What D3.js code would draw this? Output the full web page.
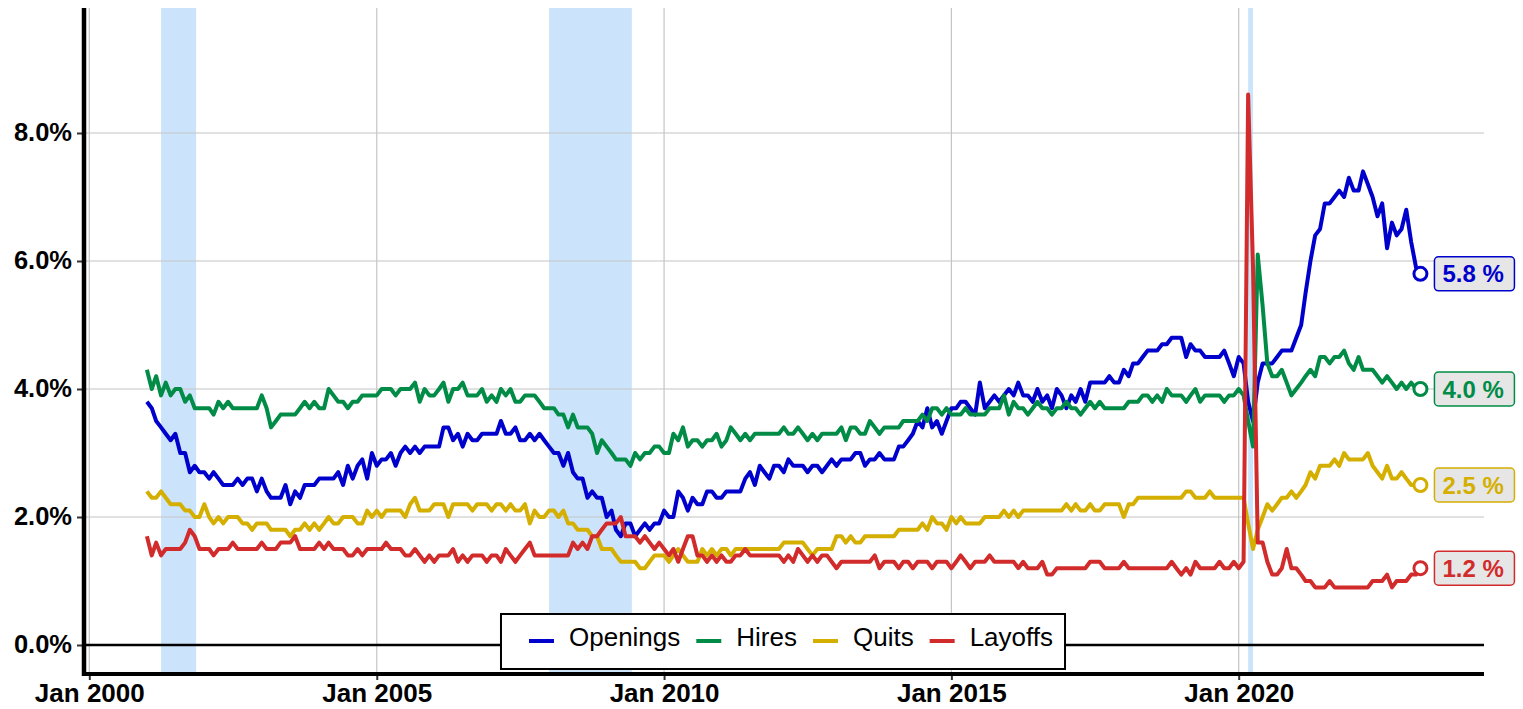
<!DOCTYPE html>
<html>
<head>
<meta charset="utf-8">
<script src="https://cdn.jsdelivr.net/npm/d3@7"></script>
<style>
  body { margin: 0; background: #fff; }
  svg { display: block; font-family: "Liberation Sans", Arial, sans-serif; }
</style>
</head>
<body>
<div id="chart"></div>
<script>
// monthly series start in Jan 2001 and run to Mar 2023 (one row per year)
const startMonth = "2001-01-01"

const openings = [
  3.8,3.7,3.5,3.4,3.3,3.2,3.3,3.0,3.0,2.7,2.8,2.7, // 2001
  2.7,2.6,2.7,2.6,2.5,2.5,2.5,2.6,2.5,2.6,2.6,2.4, // 2002
  2.6,2.4,2.3,2.3,2.3,2.5,2.2,2.4,2.3,2.5,2.5,2.5, // 2003
  2.6,2.6,2.6,2.6,2.7,2.5,2.8,2.6,2.8,2.9,2.6,3.0, // 2004
  2.8,2.9,2.9,3.0,2.8,3.0,3.1,3.0,3.1,3.0,3.1,3.1, // 2005
  3.1,3.1,3.4,3.4,3.2,3.3,3.1,3.3,3.2,3.2,3.3,3.3, // 2006
  3.3,3.3,3.5,3.3,3.3,3.4,3.2,3.2,3.3,3.2,3.3,3.2, // 2007
  3.1,3.0,3.0,2.8,3.0,2.7,2.6,2.6,2.3,2.4,2.3,2.3, // 2008
  2.0,2.1,1.8,1.7,1.9,1.9,1.7,1.8,1.9,1.8,1.9,1.9, // 2009
  2.1,2.0,2.0,2.4,2.3,2.1,2.3,2.2,2.2,2.4,2.4,2.3, // 2010
  2.3,2.4,2.4,2.4,2.4,2.6,2.7,2.5,2.8,2.7,2.6,2.8, // 2011
  2.8,2.7,2.9,2.8,2.8,2.8,2.7,2.8,2.8,2.7,2.8,2.9, // 2012
  2.8,2.9,2.9,2.9,3.0,3.0,2.8,2.9,2.9,3.0,2.9,2.9, // 2013
  2.9,3.1,3.1,3.2,3.3,3.5,3.4,3.7,3.4,3.5,3.3,3.5, // 2014
  3.7,3.7,3.8,3.8,3.7,3.6,4.1,3.7,3.8,3.9,3.8,3.9, // 2015
  4.0,3.9,4.1,3.9,3.9,3.8,4.0,3.8,3.9,3.7,4.0,3.9, // 2016
  3.7,3.9,3.8,4.0,3.8,4.1,4.1,4.1,4.1,4.2,4.1,4.1, // 2017
  4.3,4.2,4.4,4.4,4.5,4.6,4.6,4.6,4.7,4.7,4.8,4.8, // 2018
  4.8,4.5,4.7,4.6,4.6,4.5,4.5,4.5,4.5,4.6,4.4,4.2, // 2019
  4.5,4.4,3.8,3.5,4.1,4.4,4.4,4.4,4.5,4.6,4.6,4.6, // 2020
  4.8,5.0,5.5,6.0,6.4,6.5,6.9,6.9,7.0,7.1,7.0,7.3, // 2021
  7.1,7.1,7.4,7.2,7.0,6.7,6.9,6.2,6.6,6.4,6.5,6.8, // 2022
  6.3,5.9,5.8                                      // 2023
]

const hires = [
  4.3,4.0,4.2,3.9,4.1,3.9,4.0,4.0,3.8,3.9,3.7,3.7,
  3.7,3.7,3.6,3.8,3.7,3.8,3.7,3.7,3.7,3.7,3.7,3.7,
  3.9,3.7,3.4,3.5,3.6,3.6,3.6,3.6,3.7,3.8,3.7,3.8,
  3.7,3.7,4.0,3.9,3.8,3.8,3.7,3.8,3.8,3.9,3.9,3.9,
  3.9,4.0,4.0,4.0,3.9,4.0,4.0,4.0,4.1,3.8,4.0,3.9,
  3.9,4.0,4.1,3.8,4.0,4.0,4.1,3.9,3.9,3.9,4.0,3.8,
  3.9,3.8,4.0,3.9,4.0,3.8,3.8,3.9,3.9,3.9,3.8,3.7,
  3.7,3.7,3.6,3.6,3.4,3.6,3.4,3.4,3.4,3.3,3.0,3.2,
  3.1,3.0,2.9,2.9,2.9,2.8,3.0,2.9,3.0,3.0,3.1,3.1,
  3.0,3.0,3.3,3.2,3.4,3.1,3.2,3.2,3.1,3.2,3.2,3.3,
  3.1,3.2,3.4,3.3,3.2,3.3,3.2,3.3,3.3,3.3,3.3,3.3,
  3.3,3.4,3.3,3.3,3.4,3.3,3.2,3.3,3.2,3.3,3.3,3.3,
  3.3,3.4,3.2,3.4,3.4,3.3,3.3,3.5,3.4,3.3,3.4,3.4,
  3.4,3.4,3.5,3.5,3.5,3.5,3.6,3.5,3.7,3.7,3.6,3.7,
  3.6,3.6,3.6,3.7,3.6,3.6,3.6,3.6,3.7,3.7,3.7,3.9,
  3.6,3.8,3.7,3.7,3.6,3.7,3.8,3.7,3.7,3.6,3.7,3.7,
  3.8,3.7,3.7,3.6,3.7,3.8,3.7,3.8,3.7,3.7,3.7,3.7,
  3.7,3.8,3.8,3.8,3.9,3.9,3.8,3.9,3.8,4.0,3.9,3.9,
  3.9,3.8,3.9,4.0,3.8,3.9,3.9,3.9,3.9,3.8,3.9,3.9,
  4.0,3.9,3.5,3.1,6.1,5.3,4.4,4.2,4.2,4.3,4.1,3.9,
  4.0,4.1,4.2,4.3,4.2,4.5,4.5,4.4,4.5,4.5,4.6,4.4,
  4.3,4.5,4.3,4.3,4.3,4.2,4.1,4.2,4.1,4.0,4.1,4.0,
  4.1,4.0,4.0
]

const quits = [
  2.4,2.3,2.3,2.4,2.3,2.2,2.2,2.2,2.1,2.1,2.0,2.0,
  2.2,2.0,1.9,2.0,1.9,2.0,2.0,2.0,1.9,1.9,1.8,1.9,
  1.9,1.9,1.8,1.8,1.8,1.8,1.7,1.8,1.8,1.9,1.8,1.9,
  1.8,1.9,2.0,1.9,1.9,2.0,2.0,2.0,1.9,1.9,2.1,2.0,
  2.1,2.0,2.1,2.1,2.1,2.1,2.0,2.2,2.3,2.1,2.1,2.1,
  2.2,2.2,2.2,2.0,2.2,2.2,2.2,2.2,2.1,2.2,2.2,2.2,
  2.1,2.2,2.2,2.1,2.2,2.1,2.1,2.2,1.9,2.1,2.0,2.0,
  2.1,2.1,2.0,2.1,1.9,1.9,1.8,1.8,1.8,1.7,1.7,1.5,
  1.5,1.5,1.4,1.3,1.3,1.3,1.3,1.2,1.2,1.3,1.4,1.4,
  1.4,1.3,1.4,1.5,1.4,1.3,1.3,1.3,1.5,1.4,1.5,1.4,
  1.5,1.5,1.4,1.5,1.5,1.5,1.5,1.5,1.5,1.5,1.5,1.5,
  1.5,1.6,1.6,1.6,1.6,1.6,1.5,1.4,1.5,1.5,1.5,1.5,
  1.7,1.7,1.6,1.7,1.6,1.6,1.7,1.7,1.7,1.7,1.7,1.7,
  1.7,1.8,1.8,1.8,1.8,1.8,1.9,1.8,2.0,1.9,1.9,1.8,
  2.0,1.9,2.0,1.9,1.9,1.9,1.9,2.0,2.0,2.0,2.0,2.1,
  2.0,2.1,2.0,2.1,2.1,2.1,2.1,2.1,2.1,2.1,2.1,2.1,
  2.2,2.1,2.2,2.1,2.1,2.2,2.1,2.1,2.2,2.2,2.2,2.2,
  2.0,2.2,2.2,2.3,2.3,2.3,2.3,2.3,2.3,2.3,2.3,2.3,
  2.3,2.4,2.4,2.3,2.3,2.3,2.4,2.3,2.3,2.3,2.3,2.3,
  2.3,2.3,1.9,1.5,1.8,2.0,2.2,2.1,2.2,2.3,2.3,2.4,
  2.3,2.4,2.5,2.7,2.6,2.8,2.8,2.8,2.9,2.8,3.0,2.9,
  2.9,2.9,2.9,3.0,2.8,2.7,2.6,2.8,2.6,2.6,2.7,2.6,
  2.5,2.5,2.5
]

const layoffs = [
  1.7,1.4,1.6,1.4,1.5,1.5,1.5,1.5,1.6,1.8,1.7,1.5,
  1.5,1.5,1.4,1.5,1.5,1.5,1.6,1.5,1.5,1.5,1.5,1.5,
  1.6,1.5,1.5,1.5,1.6,1.6,1.6,1.7,1.5,1.5,1.5,1.5,
  1.6,1.5,1.6,1.5,1.5,1.5,1.4,1.4,1.5,1.4,1.5,1.5,
  1.5,1.5,1.6,1.5,1.5,1.5,1.4,1.4,1.5,1.4,1.3,1.4,
  1.3,1.4,1.4,1.4,1.5,1.3,1.4,1.3,1.4,1.4,1.4,1.3,
  1.4,1.4,1.3,1.5,1.4,1.3,1.4,1.5,1.6,1.4,1.4,1.4,
  1.4,1.4,1.4,1.4,1.4,1.6,1.5,1.6,1.5,1.7,1.7,1.8,
  1.9,1.9,1.9,2.0,1.7,1.7,1.7,1.6,1.7,1.6,1.5,1.6,
  1.5,1.4,1.5,1.3,1.5,1.7,1.7,1.4,1.4,1.3,1.4,1.3,
  1.4,1.3,1.3,1.4,1.4,1.5,1.4,1.4,1.4,1.4,1.4,1.4,
  1.4,1.3,1.4,1.3,1.5,1.4,1.3,1.4,1.3,1.4,1.4,1.3,
  1.2,1.3,1.3,1.3,1.3,1.3,1.3,1.3,1.4,1.2,1.3,1.3,
  1.3,1.2,1.3,1.3,1.2,1.3,1.3,1.3,1.2,1.3,1.3,1.3,
  1.2,1.3,1.4,1.3,1.2,1.3,1.3,1.3,1.4,1.3,1.3,1.3,
  1.3,1.3,1.2,1.3,1.2,1.2,1.2,1.3,1.1,1.1,1.2,1.2,
  1.2,1.2,1.2,1.2,1.2,1.3,1.3,1.3,1.2,1.2,1.2,1.2,
  1.3,1.2,1.2,1.2,1.2,1.2,1.2,1.2,1.2,1.2,1.3,1.2,
  1.1,1.2,1.1,1.3,1.2,1.2,1.2,1.2,1.3,1.2,1.2,1.3,
  1.2,1.3,8.6,5.9,1.6,1.6,1.3,1.1,1.1,1.2,1.5,1.2,
  1.2,1.1,1.0,1.0,0.9,0.9,0.9,1.0,0.9,0.9,0.9,0.9,
  0.9,0.9,0.9,0.9,1.0,1.0,1.0,1.1,0.9,1.0,1.0,1.0,
  1.1,1.1,1.2
]

const seriesNames = ["Openings", "Hires", "Quits", "Layoffs"]
const seriesColors = ["#0000cd", "#008c46", "#d4af00", "#d22b2b"]

// recession periods (shaded)
const recessions = [
  ["2001-04-01", "2001-11-10"],
  ["2008-01-01", "2009-06-10"],
  ["2020-03-01", "2020-04-01"]
]

const xTickDates = ["2000-01-01", "2005-01-01", "2010-01-01", "2015-01-01", "2020-01-01"]
const yTickValues = [0, 2, 4, 6, 8]

const parse = d3.utcParse("%Y-%m-%d")

const width = 1523
const height = 709

// plot frame
const plotLeft = 84
const plotRight = 1484
const plotTop = 8
const plotBottom = 674

// x scale calibrated on Jan 2000 / Jan 2020 gridlines, then stretched to the frame
let xScale = d3.scaleUtc()
  .domain([parse("2000-01-01"), parse("2020-01-01")])
  .range([89.3, 1238.7])
xScale.domain([xScale.invert(82), xScale.invert(plotRight)]).range([82, plotRight])

let yScale = d3.scaleLinear()
  .domain([0, 8])
  .range([645, 133])
yScale.domain([yScale.invert(plotBottom), yScale.invert(plotTop)]).range([plotBottom, plotTop])

const start = parse(startMonth)
const months = d3.utcMonth.range(start, d3.utcMonth.offset(start, openings.length))

const series = [openings, hires, quits, layoffs].map((vals, i) => ({
  name: seriesNames[i],
  color: seriesColors[i],
  values: vals.map((v, j) => ({ date: months[j], value: v }))
}))

let svg = d3.select("#chart")
  .append("svg")
    .attr("width", width)
    .attr("height", height)

svg.append("rect")
  .attr("width", width)
  .attr("height", height)
  .attr("fill", "white")

// recession shading
svg.selectAll(".recession")
    .data(recessions)
  .enter().append("rect")
    .attr("class", "recession")
    .attr("x", d => xScale(parse(d[0])))
    .attr("width", d => xScale(parse(d[1])) - xScale(parse(d[0])))
    .attr("y", plotTop)
    .attr("height", plotBottom - plotTop)
    .attr("fill", "#cce4fb")

// vertical gridlines
svg.append("g")
  .selectAll("line")
  .data(xTickDates)
  .enter().append("line")
    .attr("x1", d => xScale(parse(d)))
    .attr("x2", d => xScale(parse(d)))
    .attr("y1", plotTop)
    .attr("y2", plotBottom)
    .attr("stroke", "#c4c4c4")
    .attr("stroke-width", 1.2)

// horizontal gridlines
svg.append("g")
  .selectAll("line")
  .data(yTickValues.filter(d => d !== 0))
  .enter().append("line")
    .attr("x1", plotLeft)
    .attr("x2", plotRight)
    .attr("y1", d => yScale(d))
    .attr("y2", d => yScale(d))
    .attr("stroke", "#c4c4c4")
    .attr("stroke-width", 1.2)

// zero line
svg.append("line")
  .attr("x1", plotLeft)
  .attr("x2", plotRight)
  .attr("y1", yScale(0))
  .attr("y2", yScale(0))
  .attr("stroke", "black")
  .attr("stroke-width", 2.5)

// series lines
let line = d3.line()
  .x(d => xScale(d.date))
  .y(d => yScale(d.value))

svg.selectAll(".series")
    .data(series)
  .enter().append("path")
    .attr("class", "series")
    .attr("d", d => line(d.values))
    .attr("fill", "none")
    .attr("stroke", d => d.color)
    .attr("stroke-width", 4)
    .attr("stroke-linejoin", "round")

// axes
let yAxis = svg.append("g")
  .attr("transform", "translate(82,0)")
  .call(d3.axisLeft(yScale)
    .tickValues(yTickValues)
    .tickSize(5)
    .tickPadding(5)
    .tickFormat(d => d3.format(".1f")(d) + "%"))
yAxis.select(".domain").remove()
yAxis.selectAll(".tick line").attr("stroke", "#333").attr("stroke-width", 2)
yAxis.selectAll(".tick text")
  .attr("dy", "0.3em")
  .style("font-size", "25.5px")
  .style("font-weight", "bold")
  .style("fill", "black")

let xAxis = svg.append("g")
  .attr("transform", "translate(0," + (plotBottom + 2) + ")")
  .call(d3.axisBottom(xScale)
    .tickValues(xTickDates.map(parse))
    .tickSize(4)
    .tickPadding(4)
    .tickFormat(d3.utcFormat("Jan %Y")))
xAxis.select(".domain").remove()
xAxis.selectAll(".tick line").attr("stroke", "#333").attr("stroke-width", 2)
xAxis.selectAll(".tick text")
  .style("font-size", "26px")
  .style("font-weight", "bold")
  .style("fill", "black")

// thick frame lines
svg.append("line")
  .attr("x1", plotLeft).attr("x2", plotLeft)
  .attr("y1", plotTop).attr("y2", plotBottom + 2)
  .attr("stroke", "black")
  .attr("stroke-width", 4.5)

svg.append("line")
  .attr("x1", 82).attr("x2", plotRight)
  .attr("y1", plotBottom).attr("y2", plotBottom)
  .attr("stroke", "black")
  .attr("stroke-width", 4)

// legend
let legend = svg.append("g")
let cursor = 28
series.forEach(s => {
  let item = legend.append("g")
  item.append("line")
    .attr("x1", cursor).attr("x2", cursor + 25)
    .attr("y1", 27).attr("y2", 27)
    .attr("stroke", s.color)
    .attr("stroke-width", 4)
  let t = item.append("text")
    .attr("x", cursor + 40)
    .attr("y", 32)
    .style("font-size", "26px")
    .text(s.name)
  cursor += 40 + t.node().getComputedTextLength() + 16
})
let legendWidth = cursor - 16 + 12
let legendX = (82 + plotRight) / 2 - legendWidth / 2
legend.insert("rect", ":first-child")
  .attr("width", legendWidth)
  .attr("height", 55)
  .attr("fill", "white")
  .attr("stroke", "black")
  .attr("stroke-width", 2)
legend.attr("transform", "translate(" + legendX + ",614)")

// end points and value labels
series.forEach(s => {
  let last = s.values[s.values.length - 1]
  let cx = xScale(last.date)
  let cy = yScale(last.value)

  svg.append("circle")
    .attr("cx", cx)
    .attr("cy", cy)
    .attr("r", 6.5)
    .attr("fill", "white")
    .attr("stroke", s.color)
    .attr("stroke-width", 3)

  svg.append("rect")
    .attr("x", cx + 14)
    .attr("y", cy - 17)
    .attr("width", 80)
    .attr("height", 34)
    .attr("rx", 4)
    .attr("fill", "#e6e6e6")
    .attr("stroke", s.color)
    .attr("stroke-width", 1.5)

  svg.append("text")
    .attr("x", cx + 22)
    .attr("y", cy + 8.5)
    .style("font-size", "24px")
    .style("font-weight", "bold")
    .style("fill", s.color)
    .text(d3.format(".1f")(last.value) + " %")
})
</script>
</body>
</html>
